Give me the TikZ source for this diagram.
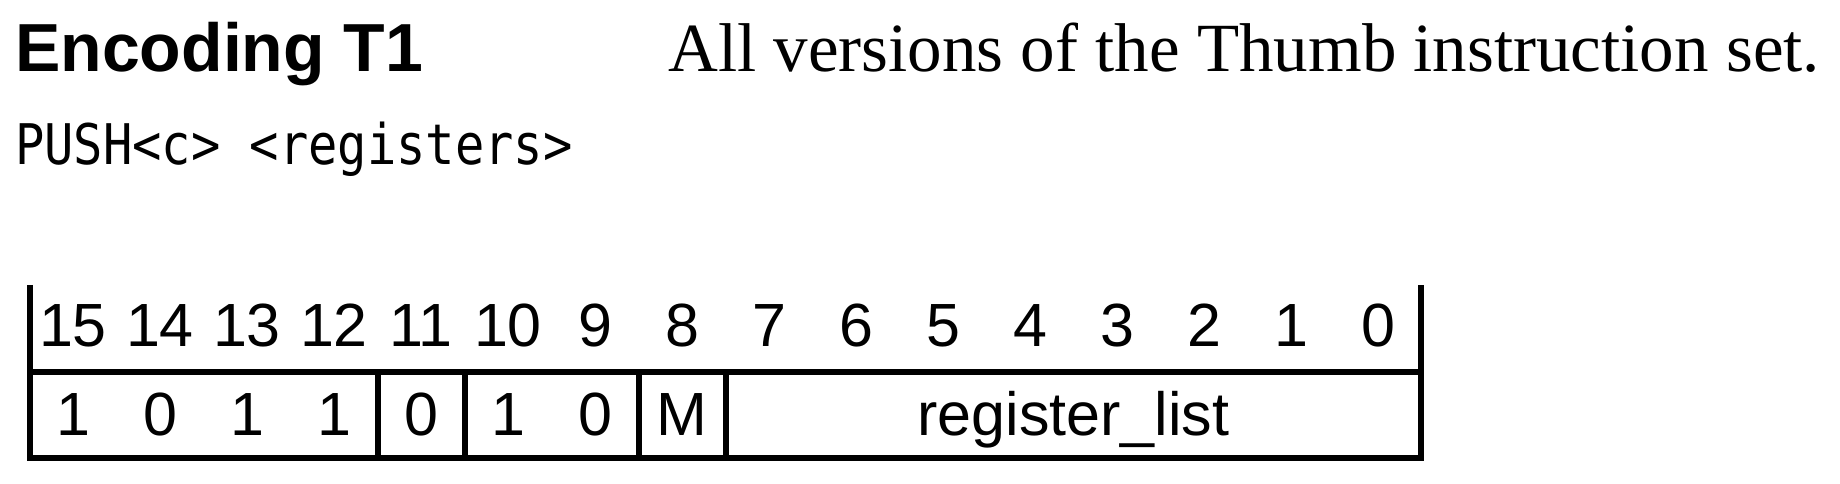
\documentclass[tikz,border=0pt]{standalone}
\usepackage{fontspec}
\newfontfamily\arialf{Liberation Sans}
\newfontfamily\timesf{Liberation Serif}
\newfontfamily\monof[FakeStretch=0.87]{DejaVu Sans Mono}
\begin{document}
\begin{tikzpicture}[x=1bp,y=-1bp,
  frame/.style={line width=6bp, line join=miter},
  bitnum/.style={inner sep=0pt, anchor=base, font=\arialf\fontsize{61bp}{70bp}\selectfont},
  bitval/.style={inner sep=0pt, anchor=base, font=\arialf\fontsize{61bp}{70bp}\selectfont},
  title/.style={inner sep=0pt, anchor=base west, font=\arialf\bfseries\fontsize{68bp}{80bp}\selectfont},
  subtitle/.style={inner sep=0pt, anchor=base west, font=\timesf\fontsize{69bp}{80bp}\selectfont},
  syntax/.style={inner sep=0pt, anchor=base west, font=\monof\fontsize{56bp}{66bp}\selectfont}]
\useasboundingbox (0,0) rectangle (1840,484);
% headings
\node[title] (enc) at (15,72) {Encoding T1};
\node[subtitle] (ver) at (668,72) {All versions of the Thumb instruction set.};
\node[syntax] (asm) at (15,165) {PUSH<c> <registers>};
% frame
\coordinate (tl) at (29.5,285);
\coordinate (tr) at (1421,285);
\coordinate (ml) at (29.5,372);
\coordinate (mr) at (1421,372);
\coordinate (bl) at (29.5,458);
\coordinate (br) at (1421,458);
\draw[frame] (tl) -- (bl) -- (br) -- (tr);
\draw[frame] (ml) -- (mr);
\foreach \b in {11,10,8,7}{
  \coordinate (dt\b) at ({29.5+(15-\b)*87},372);
  \coordinate (db\b) at ({29.5+(15-\b)*87},458);
}
\foreach \b in {11,10,8,7}{
  \draw[frame] (dt\b) -- (db\b);
}
% bit numbers
\foreach \i in {0,...,15}{
  \node[bitnum] (n\i) at ({29.5+(15-\i+0.5)*87},347) {\i};
}
% bit values
\node[bitval] (v15) at ({29.5+0.5*87},435) {1};
\node[bitval] (v14) at ({29.5+1.5*87},435) {0};
\node[bitval] (v13) at ({29.5+2.5*87},435) {1};
\node[bitval] (v12) at ({29.5+3.5*87},435) {1};
\node[bitval] (v11) at ({29.5+4.5*87},435) {0};
\node[bitval] (v10) at ({29.5+5.5*87},435) {1};
\node[bitval] (v9) at ({29.5+6.5*87},435) {0};
\node[bitval] (v8) at ({29.5+7.5*87},435) {M};
\node[bitval] (vreg) at ({29.5+12*87},435) {register\_list};
\end{tikzpicture}
\end{document}
